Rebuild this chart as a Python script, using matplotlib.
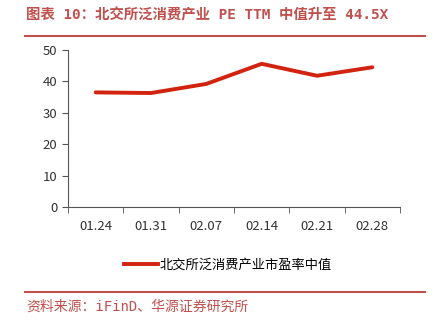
import matplotlib.pyplot as plt
from matplotlib.lines import Line2D

plt.rcParams['font.family'] = ['Noto Sans CJK SC', 'DejaVu Sans']

#  data
dates = ["01.24", "01.31", "02.07", "02.14", "02.21", "02.28"]
pe_median = [36.5, 36.3, 39.2, 45.6, 41.8, 44.5]

title = "图表 10：北交所泛消费产业 PE TTM 中值升至 44.5X"
source = "资料来源：iFinD、华源证券研究所"
series_name = "北交所泛消费产业市盈率中值"

red_title = "#C0504D"
red_line = "#D2230F"

fig = plt.figure(figsize=(4.38, 3.26), dpi=100)
ax = fig.add_axes([68/438, 1-207/326, (400-68)/438, (207-50)/326])

x = range(len(dates))
ax.plot(x, pe_median, color=red_line, lw=2.8, solid_capstyle="round")
ax.set_xlim(-0.5, len(dates)-0.5)
ax.set_ylim(0, 50)
ax.set_yticks(range(0, 51, 10))
ax.set_xticks(x)
ax.set_xticklabels(dates)
ax.set_xticks([i-0.5 for i in range(len(dates)+1)], minor=True)
ax.tick_params(axis="x", which="major", length=0, pad=9, labelsize=9.5, colors="#333333")
ax.tick_params(axis="x", which="minor", length=4, color="#555555")
ax.tick_params(axis="y", length=4, labelsize=9.5, colors="#333333", color="#555555")
for s in ["top", "right"]:
    ax.spines[s].set_visible(False)
for s in ["left", "bottom"]:
    ax.spines[s].set_color("#555555")
    ax.spines[s].set_linewidth(0.8)

handle = Line2D([], [], color=red_line, lw=2.8)
fig.legend([handle], [series_name], loc="center", bbox_to_anchor=(228/438, 1-265/326),
           frameon=False, fontsize=9.5, handlelength=2.6, handletextpad=0.1)

fig.text(26/438, 1-15/326, title, color=red_title, fontsize=10.4, fontweight="bold",
         va="center", family=["DejaVu Sans Mono", "Noto Sans CJK SC"])
fig.add_artist(Line2D([25/438, 425/438], [1-36/326, 1-36/326], color=red_title, lw=1.5))
fig.add_artist(Line2D([25/438, 425/438], [1-292/326, 1-292/326], color=red_title, lw=1.5))
fig.text(26/438, 1-307/326, source, color=red_title, fontsize=10, va="center",
         family=["DejaVu Sans Mono", "Noto Sans CJK SC"])

fig.savefig("out.png", dpi=100)
